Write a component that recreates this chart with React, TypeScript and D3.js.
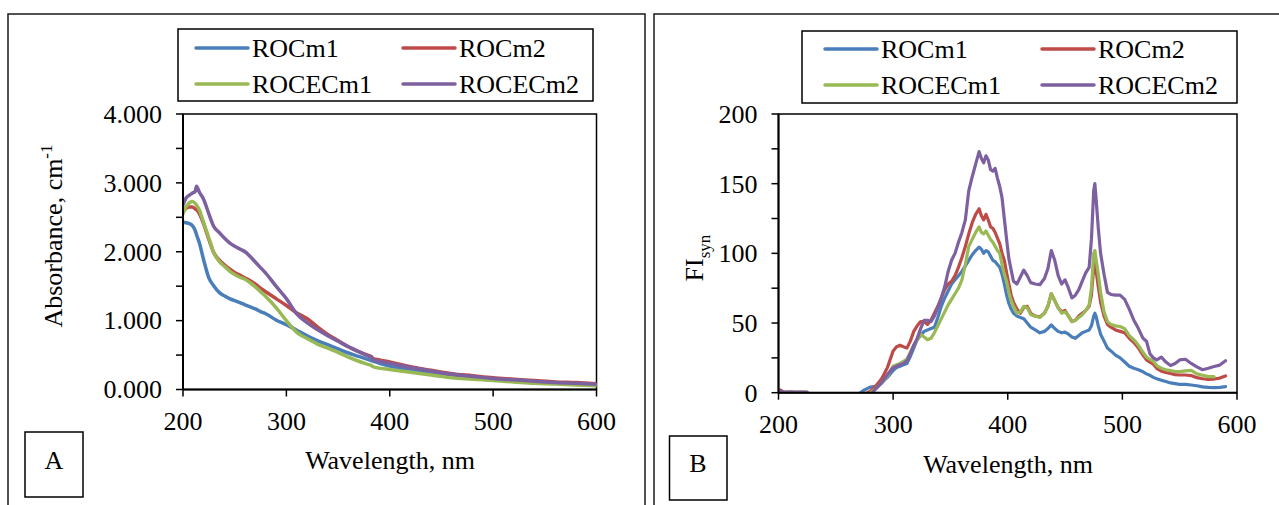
import React from "react";
import * as d3 from "d3";

// ---------- shared ----------
const seriesNames = ["ROCm1", "ROCm2", "ROCECm1", "ROCECm2"];
const seriesColors = ["#4A7EBB", "#BE4B48", "#98B954", "#7D60A0"];
const xTickValues = [200, 300, 400, 500, 600];

// ---------- panel A : absorbance ----------
const absWl = [200, 203, 206, 209, 212, 213, 216, 220, 225, 230, 235, 240, 245, 250, 255, 260, 265, 270, 275, 280, 290, 300, 310, 320, 330, 340, 350, 360, 370, 380, 382, 384, 390, 400, 420, 440, 460, 480, 500, 520, 540, 560, 580, 600];
const absROCm1 = [2.43, 2.42, 2.41, 2.38, 2.3, 2.25, 2.12, 1.88, 1.62, 1.5, 1.41, 1.36, 1.32, 1.29, 1.26, 1.23, 1.2, 1.17, 1.13, 1.1, 1.01, 0.94, 0.86, 0.78, 0.71, 0.65, 0.59, 0.53, 0.48, 0.43, 0.42, 0.41, 0.38, 0.34, 0.28, 0.23, 0.19, 0.16, 0.14, 0.12, 0.1, 0.09, 0.075, 0.065];
const absROCm2 = [2.58, 2.63, 2.65, 2.65, 2.62, 2.61, 2.55, 2.4, 2.18, 1.98, 1.88, 1.81, 1.75, 1.7, 1.66, 1.62, 1.58, 1.53, 1.47, 1.42, 1.32, 1.22, 1.11, 1.03, 0.91, 0.8, 0.71, 0.62, 0.55, 0.49, 0.48, 0.45, 0.43, 0.4, 0.33, 0.28, 0.23, 0.2, 0.17, 0.15, 0.13, 0.11, 0.1, 0.085];
const absROCECm1 = [2.55, 2.65, 2.71, 2.73, 2.7, 2.68, 2.6, 2.42, 2.2, 1.98, 1.86, 1.79, 1.72, 1.67, 1.63, 1.6, 1.55, 1.49, 1.42, 1.35, 1.19, 1.0, 0.83, 0.74, 0.66, 0.6, 0.54, 0.47, 0.41, 0.36, 0.35, 0.33, 0.31, 0.29, 0.25, 0.21, 0.17, 0.15, 0.13, 0.11, 0.09, 0.08, 0.065, 0.055];
const absROCECm2 = [2.68, 2.78, 2.82, 2.85, 2.88, 2.95, 2.86, 2.76, 2.55, 2.36, 2.28, 2.2, 2.13, 2.08, 2.04, 2.0, 1.93, 1.85, 1.77, 1.69, 1.5, 1.32, 1.1, 0.97, 0.87, 0.78, 0.7, 0.62, 0.55, 0.48, 0.47, 0.43, 0.41, 0.38, 0.32, 0.27, 0.22, 0.19, 0.16, 0.14, 0.12, 0.1, 0.09, 0.075];
const absYTickValues = [0, 0.5, 1, 1.5, 2, 2.5, 3, 3.5, 4];
const absYLabelValues = [0, 1, 2, 3, 4];

// ---------- panel B : synchronous fluorescence ----------
const flWl = [200, 205, 210, 215, 220, 225, 250, 265, 270, 275, 280, 285, 290, 295, 300, 303, 306, 309, 312, 315, 318, 321, 324, 327, 330, 333, 336, 339, 342, 345, 348, 351, 354, 357, 360, 363, 366, 369, 372, 375, 377, 379, 381, 383, 385, 387, 389, 391, 393, 395, 397, 399, 401, 403, 405, 408, 411, 414, 417, 420, 424, 428, 432, 435, 438, 441, 444, 447, 450, 453, 456, 459, 462, 465, 468, 471, 473, 475, 476, 477, 479, 481, 484, 487, 490, 494, 498, 502, 506, 510, 514, 518, 521, 524, 527, 530, 534, 538, 542, 546, 550, 555, 560, 565, 570, 575, 580, 585, 590];
const flROCm1 = [0.5, 0.3, 0.5, 0.2, 0.4, 0.2, null, -5, -1, 2, 4, 4.5, 7, 11, 16, 18, 19, 20, 21, 26, 32, 38, 41, 44, 45, 46, 47, 54, 62, 68, 73, 78, 81, 84, 87, 91, 95, 99, 102, 104.5, 103, 100, 102, 101, 98, 95, 94, 92, 90, 85, 78, 70, 64, 60, 57, 55, 54, 53, 50, 47, 45, 43, 44, 46, 48.6, 46, 44, 43, 43.5, 42, 40, 39, 41, 43, 44, 45, 48, 55, 57, 55, 48, 42, 37, 32, 30, 27, 25, 22, 19, 17.5, 16.5, 15, 13.5, 12.5, 11, 10, 9, 8, 7, 6.5, 6, 6, 5.5, 5, 4.2, 3.8, 3.7, 3.8, 4.3];
const flROCm2 = [2.5, 0.3, 0.4, 0.2, 0.3, 0.2, null, -5, -3, -1, 1, 5, 10, 18, 30, 33, 34, 33, 32, 37, 44, 48, 51, 51, 49, 52, 57, 62, 68, 74, 78, 80, 84, 90, 97, 105, 114, 122, 128, 132, 127, 124, 128, 124, 119, 118, 115, 111, 107, 100, 95, 86, 78, 70, 65, 60, 57, 61, 62, 57, 55, 54.5, 57, 62, 71, 66, 61, 58, 59, 55, 51, 52, 55, 57, 59, 62, 70, 90, 93, 88, 76, 65, 55, 49, 47, 45, 44, 43, 39, 36, 32, 27, 23.5, 22, 20.5, 17.5, 15.5, 14.5, 13.8, 13, 12.7, 12.7, 12.3, 10.8, 10, 9.6, 9.8, 10.5, 12];
const flROCECm1 = [0.8, 0.3, 0.5, 0.3, 0.4, 0.2, null, -8, -5, -3, 0, 3, 7, 12, 19, 20, 21, 22.5, 24, 29, 34, 38, 42, 40, 38, 39, 43, 48, 53, 58, 63, 67, 71, 75, 81, 92, 105, 110, 115, 119, 115, 114, 116, 113, 110, 108, 105, 102, 100, 92, 85, 80, 72, 66, 62, 57, 58, 62, 61, 56, 55, 54, 57, 62, 71, 66, 61, 57, 58, 55, 51, 52, 54, 56, 59, 63, 75, 100, 102, 96, 85, 72, 58, 51, 49, 48, 47.5, 46, 41, 38, 34, 29, 25.5, 24, 22.5, 19.5, 17.5, 16.5, 15.8, 15.2, 15.1, 15.6, 16, 13.5, 12.5, 11.5, 11.5, null, null];
const flROCECm2 = [1.5, 0.3, 0.4, 0.2, 0.3, 0.2, null, -10, -8, -5, -2, 3, 7, 13, 18, 19, 20, 21, 23, 28, 34, 39, 46, 52, 52, 51, 55, 61, 68, 76, 87, 95, 100, 108, 115, 124, 145, 155, 164, 173, 168, 165, 170, 167, 160, 159, 161, 154, 148, 140, 125, 110, 96, 88, 80, 78, 83, 88, 84, 79, 78, 77.5, 82, 89, 102, 95, 84, 78, 81, 75, 68, 70, 74, 80, 86, 90, 110, 145, 150, 140, 118, 100, 85, 72, 70.5, 70, 70, 67, 60, 52, 46, 39, 37, 28, 25, 23.5, 25.5, 22, 19.5, 21, 23.5, 24, 21, 18.5, 16.5, 17.5, 18.8, 19.8, 23];
const flYTickValues = [0, 25, 50, 75, 100, 125, 150, 175, 200];
const flYLabelValues = [0, 50, 100, 150, 200];

const FONT = "'Liberation Serif', 'Times New Roman', serif";
const FS = 26;

type PanelCfg = {
  id: string;
  frame: { x: number; y: number; w: number; h: number };
  plot: { l: number; r: number; t: number; b: number };
  yDomain: [number, number];
  yTicks: number[];
  yLabels: number[];
  yFmt: (v: number) => string;
  wl: number[];
  series: (number | null)[][];
  curve: any;
  lineWidth: number;
  legend: { x: number; y: number; w: number; h: number; rows: number[]; cols: number[] };
  box: { x: number; y: number; w: number; h: number; label: string; tx: number; ty: number };
  xTitle: { x: number; y: number };
  xTickY: number;
  yTitle: React.ReactNode;
};

function Panel({ c }: { c: PanelCfg }) {
  const x = d3.scaleLinear().domain([200, 600]).range([c.plot.l, c.plot.r]);
  const y = d3.scaleLinear().domain(c.yDomain).range([c.plot.b, c.plot.t]);
  const clipId = "clip-" + c.id;
  const lineGen = d3
    .line<[number, number | null]>()
    .defined((d) => d[1] !== null)
    .x((d) => x(d[0]))
    .y((d) => y(d[1] as number))
    .curve(c.curve);
  return (
    <g>
      <rect x={c.frame.x} y={c.frame.y} width={c.frame.w} height={c.frame.h} fill="#fff" stroke="#1a1a1a" strokeWidth={1.5} />
      <defs>
        <clipPath id={clipId}>
          <rect x={c.plot.l} y={c.plot.t} width={c.plot.r - c.plot.l} height={c.plot.b - c.plot.t} />
        </clipPath>
      </defs>
      <rect x={c.plot.l} y={c.plot.t} width={c.plot.r - c.plot.l} height={c.plot.b - c.plot.t} fill="none" stroke="#000" strokeWidth={1.5} />
      <g clipPath={`url(#${clipId})`}>
        {c.series.map((vals, i) => {
          const pts = c.wl.map((w, k) => [w, vals[k]] as [number, number | null]);
          return <path key={i} d={lineGen(pts) || ""} fill="none" stroke={seriesColors[i]} strokeWidth={c.lineWidth} strokeLinejoin="round" strokeLinecap="round" />;
        })}
      </g>
      <line x1={c.plot.l} x2={c.plot.l} y1={c.plot.t} y2={c.plot.b} stroke="#000" strokeWidth={2} />
      <line x1={c.plot.l} x2={c.plot.r} y1={c.plot.b} y2={c.plot.b} stroke="#000" strokeWidth={2} />
      {c.yTicks.map((v) => (
        <line key={"yt" + v} x1={c.plot.l - 7} x2={c.plot.l} y1={y(v)} y2={y(v)} stroke="#000" strokeWidth={1.5} />
      ))}
      {c.yLabels.map((v) => (
        <text key={"yl" + v} x={c.plot.l - 21} y={y(v)} dy="0.34em" textAnchor="end" fontFamily={FONT} fontSize={FS} fill="#000">
          {c.yFmt(v)}
        </text>
      ))}
      {xTickValues.map((v) => (
        <line key={"xt" + v} x1={x(v)} x2={x(v)} y1={c.plot.b} y2={c.plot.b + 7} stroke="#000" strokeWidth={1.5} />
      ))}
      {xTickValues.map((v) => (
        <text key={"xl" + v} x={x(v)} y={c.xTickY} textAnchor="middle" fontFamily={FONT} fontSize={FS} fill="#000">
          {v}
        </text>
      ))}
      <text x={c.xTitle.x} y={c.xTitle.y} textAnchor="middle" fontFamily={FONT} fontSize={FS} fill="#000">
        Wavelength, nm
      </text>
      {c.yTitle}
      <rect x={c.legend.x} y={c.legend.y} width={c.legend.w} height={c.legend.h} fill="#fff" stroke="#000" strokeWidth={1.5} />
      {seriesNames.map((name, i) => {
        const lx = c.legend.cols[i % 2];
        const ly = c.legend.rows[Math.floor(i / 2)];
        return (
          <g key={name}>
            <line x1={lx} x2={lx + 52} y1={ly} y2={ly} stroke={seriesColors[i]} strokeWidth={3.5} strokeLinecap="round" />
            <text x={lx + 56} y={ly + 9} fontFamily={FONT} fontSize={FS} fill="#000">
              {name}
            </text>
          </g>
        );
      })}
      <rect x={c.box.x} y={c.box.y} width={c.box.w} height={c.box.h} fill="#fff" stroke="#000" strokeWidth={1.5} />
      <text x={c.box.tx} y={c.box.ty} textAnchor="middle" fontFamily={FONT} fontSize={FS} fill="#000">
        {c.box.label}
      </text>
    </g>
  );
}

export default function App() {
  const panelA: PanelCfg = {
    id: "a",
    frame: { x: 8, y: 14, w: 637, h: 520 },
    plot: { l: 183, r: 596.5, t: 114, b: 389.5 },
    yDomain: [0, 4],
    yTicks: absYTickValues,
    yLabels: absYLabelValues,
    yFmt: (v) => d3.format(".3f")(v),
    wl: absWl,
    series: [absROCm1, absROCm2, absROCECm1, absROCECm2],
    curve: d3.curveMonotoneX,
    lineWidth: 3.5,
    legend: { x: 178, y: 29, w: 415, h: 72, rows: [48, 84], cols: [196, 403] },
    box: { x: 25, y: 432, w: 58, h: 65, label: "A", tx: 54, ty: 469 },
    xTitle: { x: 390, y: 469 },
    xTickY: 430,
    yTitle: (
      <text transform="translate(62,236) rotate(-90)" textAnchor="middle" fontFamily={FONT} fontSize={FS} fill="#000">
        Absorbance, cm
        <tspan dy={-10} fontSize={17}>-1</tspan>
      </text>
    ),
  };
  const panelB: PanelCfg = {
    id: "b",
    frame: { x: 654, y: 14, w: 640, h: 520 },
    plot: { l: 778.5, r: 1237, t: 114, b: 392.7 },
    yDomain: [0, 200],
    yTicks: flYTickValues,
    yLabels: flYLabelValues,
    yFmt: (v) => String(v),
    wl: flWl,
    series: [flROCm1, flROCm2, flROCECm1, flROCECm2],
    curve: d3.curveLinear,
    lineWidth: 3.2,
    legend: { x: 802, y: 31, w: 435, h: 72, rows: [49, 85], cols: [825, 1042] },
    box: { x: 669.5, y: 436, w: 57.5, h: 64, label: "B", tx: 698, ty: 472 },
    xTitle: { x: 1008, y: 473 },
    xTickY: 433,
    yTitle: (
      <text transform="translate(703,258) rotate(-90)" textAnchor="middle" fontFamily={FONT} fontSize={FS} fill="#000">
        FI
        <tspan dy={7} fontSize={17}>syn</tspan>
      </text>
    ),
  };
  return (
    <svg
      width={1279}
      height={505}
      viewBox="0 0 1279 505"
      style={{ position: "absolute", left: 0, top: 0, background: "#fff" }}
    >
      <rect x={0} y={0} width={1279} height={505} fill="#fff" />
      <Panel c={panelA} />
      <Panel c={panelB} />
    </svg>
  );
}
